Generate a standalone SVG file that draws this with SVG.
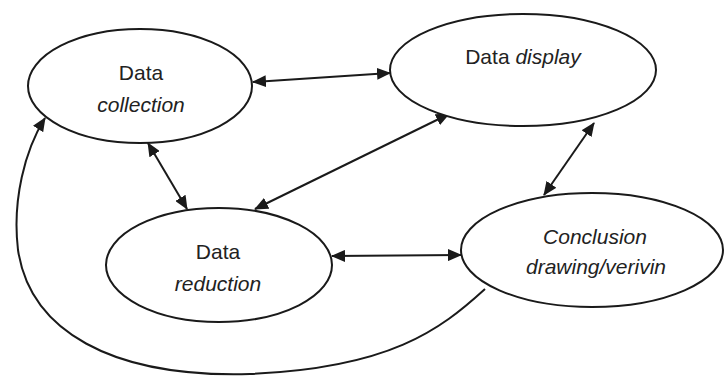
<svg xmlns="http://www.w3.org/2000/svg" width="724" height="376" viewBox="0 0 724 376">
<style>
.node ellipse{fill:#fff;stroke:#1a1a1a;stroke-width:2}
text{font-family:"Liberation Sans",Arial,sans-serif;font-size:21px;fill:#222;text-anchor:middle}
.it{font-style:italic}
.edge{fill:none;stroke:#1a1a1a;stroke-width:2}
</style>
<defs>
<marker id="ah" markerUnits="userSpaceOnUse" markerWidth="14" markerHeight="12" refX="13" refY="6" orient="auto-start-reverse">
<path d="M0,0 L14,6 L0,12 Z" fill="#1a1a1a"/>
</marker>
</defs>
<rect width="724" height="376" fill="#fff"/>
<g id="connectors">
<line class="edge" x1="253" y1="82" x2="390" y2="73" marker-start="url(#ah)" marker-end="url(#ah)"/>
<line class="edge" x1="148" y1="143" x2="187" y2="209" marker-start="url(#ah)" marker-end="url(#ah)"/>
<line class="edge" x1="449" y1="114" x2="255" y2="209" marker-start="url(#ah)" marker-end="url(#ah)"/>
<line class="edge" x1="594" y1="123" x2="544" y2="195" marker-start="url(#ah)" marker-end="url(#ah)"/>
<line class="edge" x1="332" y1="256" x2="461" y2="255" marker-start="url(#ah)" marker-end="url(#ah)"/>
<path class="edge" d="M485,289 C440,330 390,368 250,374 C110,378 30,330 18,250 C12,200 25,150 45,118" marker-end="url(#ah)"/>
</g>
<g id="data-collection" class="node">
<ellipse cx="140" cy="86" rx="112" ry="57"/>
<text x="141" y="80">Data</text>
<text x="141" y="112" class="it">collection</text>
</g>
<g id="data-display" class="node">
<ellipse cx="523" cy="70" rx="133" ry="56"/>
<text x="523" y="64">Data <tspan class="it">display</tspan></text>
</g>
<g id="data-reduction" class="node">
<ellipse cx="219" cy="265" rx="113" ry="57"/>
<text x="218" y="259">Data</text>
<text x="218" y="291" class="it">reduction</text>
</g>
<g id="conclusion" class="node">
<ellipse cx="592" cy="250" rx="131" ry="57"/>
<text x="595" y="244" class="it">Conclusion</text>
<text x="596" y="274" class="it">drawing/verivin</text>
</g>
</svg>
